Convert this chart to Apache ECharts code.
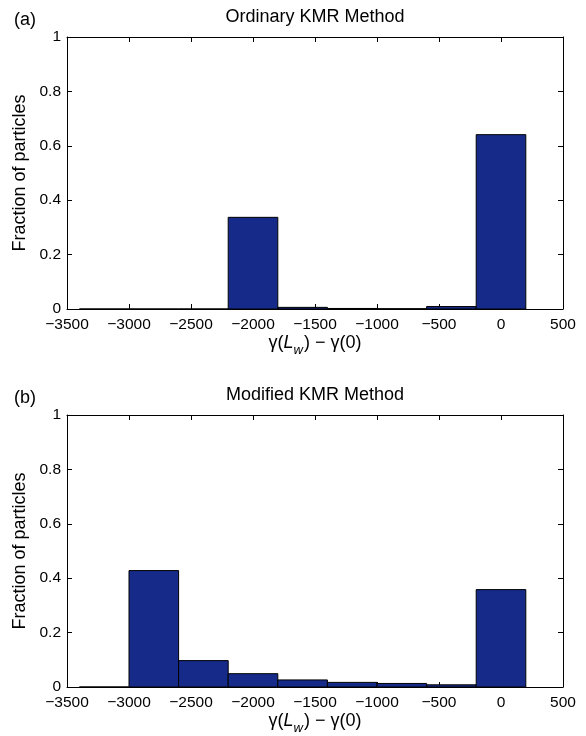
<!DOCTYPE html>
<html>
<head>
<meta charset="utf-8">
<script src="https://cdn.jsdelivr.net/npm/echarts@6/dist/echarts.min.js"></script>
<style>
html,body{margin:0;padding:0;background:#fff;}
#c{width:586px;height:736px;}
</style>
</head>
<body>
<div id="c"></div>
<script>
// ---- data ----
const binCenters = [-3200, -2800, -2400, -2000, -1600, -1200, -800, -400, 0];
const binWidth = 400;
const fractionA = [0, 0, 0, 0.337, 0.006, 0.002, 0.001, 0.009, 0.641];
const fractionB = [0, 0.428, 0.097, 0.049, 0.026, 0.017, 0.013, 0.008, 0.358];
const xTicks = [-3500, -3000, -2500, -2000, -1500, -1000, -500, 0, 500];
const yTicks = [0, 0.2, 0.4, 0.6, 0.8, 1];
const titles = ['Ordinary KMR Method', 'Modified KMR Method'];
const panelLabels = ['(a)', '(b)'];

const FONT = '"Liberation Sans", Arial, Helvetica, sans-serif';
const barColor = '#162a8a';

function toBins(vals) {
  return binCenters.map((c, i) => [c - binWidth / 2, c + binWidth / 2, vals[i]]);
}

const chart = echarts.init(document.getElementById('c'), null, {renderer: 'canvas'});

const grids = [
  {left: 67, width: 496, top: 37, height: 272},
  {left: 67, width: 496, top: 415, height: 273}
];

const xMin = xTicks[0], xMax = xTicks[xTicks.length - 1];
const xInt = xTicks[1] - xTicks[0];
const yInt = yTicks[1] - yTicks[0];

const tickLabelFmt = v => String(v).replace('-', '\u2212');

const xAxes = [], yAxes = [];
grids.forEach((g, gi) => {
  xAxes.push({
    gridIndex: gi, type: 'value', min: xMin, max: xMax, interval: xInt, position: 'bottom',
    axisLine: {show: true, onZero: false, lineStyle: {color: '#000', width: 1}},
    axisTick: {show: true, inside: true, length: 5, lineStyle: {color: '#000'}},
    axisLabel: {show: true, color: '#000', fontFamily: FONT, fontSize: 15.5, margin: 8, formatter: tickLabelFmt},
    splitLine: {show: false},
    name: '{n|\u03b3(}{i|L}{s|w}{n|) \u2212 \u03b3(0)}',
    nameLocation: 'middle', nameGap: 25,
    nameTextStyle: {
      fontFamily: FONT, fontSize: 18, color: '#000', verticalAlign: 'top',
      rich: {
        n: {fontFamily: FONT, fontSize: 18, color: '#000', verticalAlign: 'top', lineHeight: 20},
        i: {fontFamily: FONT, fontSize: 18, fontStyle: 'italic', color: '#000', verticalAlign: 'top', lineHeight: 20},
        s: {fontFamily: FONT, fontSize: 13, fontStyle: 'italic', color: '#000', verticalAlign: 'top', lineHeight: 20, padding: [10, 1, 0, 0]}
      }
    }
  });
  xAxes.push({
    gridIndex: gi, type: 'value', min: xMin, max: xMax, interval: xInt, position: 'top',
    axisLine: {show: true, onZero: false, lineStyle: {color: '#000', width: 1}},
    axisTick: {show: true, inside: true, length: 5, lineStyle: {color: '#000'}},
    axisLabel: {show: false}, splitLine: {show: false}
  });
  yAxes.push({
    gridIndex: gi, type: 'value', min: yTicks[0], max: yTicks[yTicks.length - 1], interval: yInt, position: 'left',
    axisLine: {show: true, onZero: false, lineStyle: {color: '#000', width: 1}},
    axisTick: {show: true, inside: true, length: 5, lineStyle: {color: '#000'}},
    axisLabel: {show: true, color: '#000', fontFamily: FONT, fontSize: 15.5, margin: 6,
      formatter: v => String(Math.round(v * 10) / 10)},
    splitLine: {show: false},
    name: 'Fraction of particles', nameLocation: 'middle', nameGap: 38,
    nameTextStyle: {fontFamily: FONT, fontSize: 18, color: '#000'}
  });
  yAxes.push({
    gridIndex: gi, type: 'value', min: yTicks[0], max: yTicks[yTicks.length - 1], interval: yInt, position: 'right',
    axisLine: {show: true, onZero: false, lineStyle: {color: '#000', width: 1}},
    axisTick: {show: true, inside: true, length: 5, lineStyle: {color: '#000'}},
    axisLabel: {show: false}, splitLine: {show: false}
  });
});

function histSeries(vals, gi) {
  return {
    type: 'custom',
    xAxisIndex: gi * 2, yAxisIndex: gi * 2,
    data: toBins(vals),
    clip: false,
    renderItem: function (params, api) {
      const p0 = api.coord([api.value(0), 0]);
      const p1 = api.coord([api.value(1), api.value(2)]);
      return {
        type: 'rect',
        shape: {x: p0[0], y: p1[1], width: p1[0] - p0[0], height: p0[1] - p1[1]},
        style: {fill: barColor, stroke: '#000', lineWidth: 1}
      };
    },
    z: 3
  };
}

const titleTop = [8, 386];
const labelTop = [11, 389];
const graphics = [];
[0, 1].forEach(i => {
  graphics.push({
    type: 'text', x: 315, y: titleTop[i],
    style: {text: titles[i], fontFamily: FONT, fontSize: 18, fill: '#000', textAlign: 'center'}
  });
  graphics.push({
    type: 'text', x: 14, y: labelTop[i],
    style: {text: panelLabels[i], fontFamily: FONT, fontSize: 18, fill: '#000'}
  });
});

chart.setOption({
  animation: false,
  backgroundColor: '#fff',
  grid: grids,
  xAxis: xAxes,
  yAxis: yAxes,
  series: [histSeries(fractionA, 0), histSeries(fractionB, 1)],
  graphic: graphics
});
</script>
</body>
</html>
